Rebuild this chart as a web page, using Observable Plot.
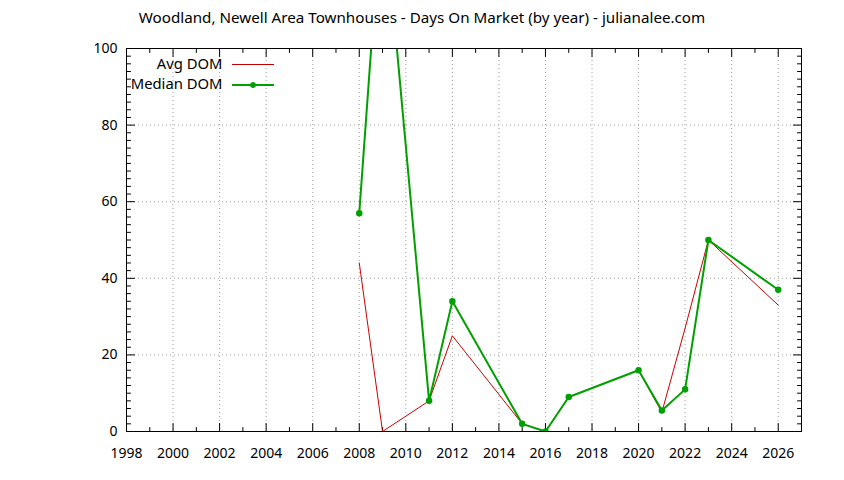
<!DOCTYPE html>
<html>
<head>
<meta charset="utf-8">
<script src="https://cdn.jsdelivr.net/npm/d3@7"></script>
<script src="https://cdn.jsdelivr.net/npm/@observablehq/plot@0.6"></script>
<style>
  html, body { margin: 0; padding: 0; background: #fff; }
  #chart svg { display: block; }
</style>
</head>
<body>
<div id="chart"></div>
<script>
const title = "Woodland, Newell Area Townhouses - Days On Market (by year) - julianalee.com";
const years = [2008, 2009, 2011, 2012, 2015, 2016, 2017, 2020, 2021, 2022, 2023, 2026];
const avgDOM = [44, 0, 8, 25, 2, 0, 9, 16, 5, 27, 50, 33];
const medianDOM = [57, 141, 8, 34, 2, 0, 9, 16, 5.5, 11, 50, 37];
const seriesNames = ["Avg DOM", "Median DOM"];
const xTickLabels = [1998, 2000, 2002, 2004, 2006, 2008, 2010, 2012, 2014, 2016, 2018, 2020, 2022, 2024, 2026];
const yTickLabels = [0, 20, 40, 60, 80, 100];
const xMinor = d3.range(1999, 2028, 2);
const yMinor = d3.range(0, 101, 2).filter(d => d % 20 !== 0);

const avg = years.map((y, i) => ({year: y, value: avgDOM[i]}));
const med = years.map((y, i) => ({year: y, value: medianDOM[i]}));

const RED = "#cc0000";
const GREEN = "#00a000";
const FONT = "'Noto Sans', sans-serif";
const FS = 14;

const tickShape = {draw(ctx, l) { ctx.moveTo(0, 0); ctx.lineTo(0, -l); }};
const tickOpts = {anchor: "start", shape: tickShape, stroke: "#000", strokeWidth: 1};

function edgeTicks(values, dim, len) {
  const ch = dim === "x" ? {x: d => d} : {y: d => d};
  const sides = dim === "x" ? [["bottom", 0], ["top", 180]] : [["left", 90], ["right", -90]];
  return sides.map(([fa, rot]) => Plot.vector(values, {...ch, frameAnchor: fa, rotate: rot, length: len, ...tickOpts}));
}

const plot = Plot.plot({
  width: 844,
  height: 480,
  marginLeft: 126,
  marginRight: 43,
  marginTop: 48,
  marginBottom: 49,
  style: {fontFamily: FONT, fontSize: FS + "px", color: "#000", background: "#fff"},
  x: {domain: [1998, 2027], type: "linear", label: null},
  y: {domain: [0, 100], label: null},
  marks: [
    // grid
    Plot.ruleX(xTickLabels.filter(d => d > 1998), {stroke: "#a0a0a0", strokeDasharray: "1,3", strokeWidth: 1}),
    Plot.ruleY(yTickLabels.filter(d => d > 0 && d < 100), {stroke: "#a0a0a0", strokeDasharray: "1,3", strokeWidth: 1}),
    // tick labels
    Plot.axisX({ticks: xTickLabels, tickSize: 0, tickPadding: 17, tickFormat: d => String(d), fontSize: FS, label: null}),
    Plot.axisY({ticks: yTickLabels, tickSize: 0, tickPadding: 9, tickFormat: d => String(d), fontSize: FS, label: null}),
    // inward ticks on all four sides
    ...edgeTicks(xTickLabels, "x", 8),
    ...edgeTicks(xMinor, "x", 4),
    ...edgeTicks(yTickLabels, "y", 8),
    ...edgeTicks(yMinor, "y", 4),
    // data
    Plot.line(avg, {x: "year", y: "value", stroke: RED, strokeWidth: 1, clip: true}),
    Plot.line(med, {x: "year", y: "value", stroke: GREEN, strokeWidth: 2, clip: true}),
    Plot.dot(med, {x: "year", y: "value", fill: GREEN, stroke: GREEN, r: 2.5, clip: true}),
    // frame
    Plot.frame({stroke: "#000", strokeWidth: 1}),
    // legend labels
    Plot.text([seriesNames[0]], {text: d => d, frameAnchor: "top-left", lineAnchor: "middle", dx: 96, dy: 16, textAnchor: "end", fontSize: 14.8}),
    Plot.text([seriesNames[1]], {text: d => d, frameAnchor: "top-left", lineAnchor: "middle", dx: 96, dy: 36, textAnchor: "end", fontSize: 14.8}),
    // title
    Plot.text([title], {text: d => d, frameAnchor: "top", lineAnchor: "middle", dy: -30.5, dx: -42, fontSize: 15.2})
  ]
});

// legend swatches (key samples, not data)
const svg = d3.select(plot);
const g = svg.append("g");
const lx = 126 + 106, lw = 42;
g.append("line").attr("x1", lx).attr("x2", lx + lw).attr("y1", 64.5).attr("y2", 64.5)
  .attr("stroke", "#c00000").attr("stroke-width", 1);
g.append("line").attr("x1", lx).attr("x2", lx + lw).attr("y1", 85).attr("y2", 85)
  .attr("stroke", GREEN).attr("stroke-width", 2);
g.append("circle").attr("cx", lx + lw / 2).attr("cy", 85).attr("r", 2.5)
  .attr("fill", GREEN).attr("stroke", GREEN);

document.getElementById("chart").appendChild(plot);
</script>
</body>
</html>
